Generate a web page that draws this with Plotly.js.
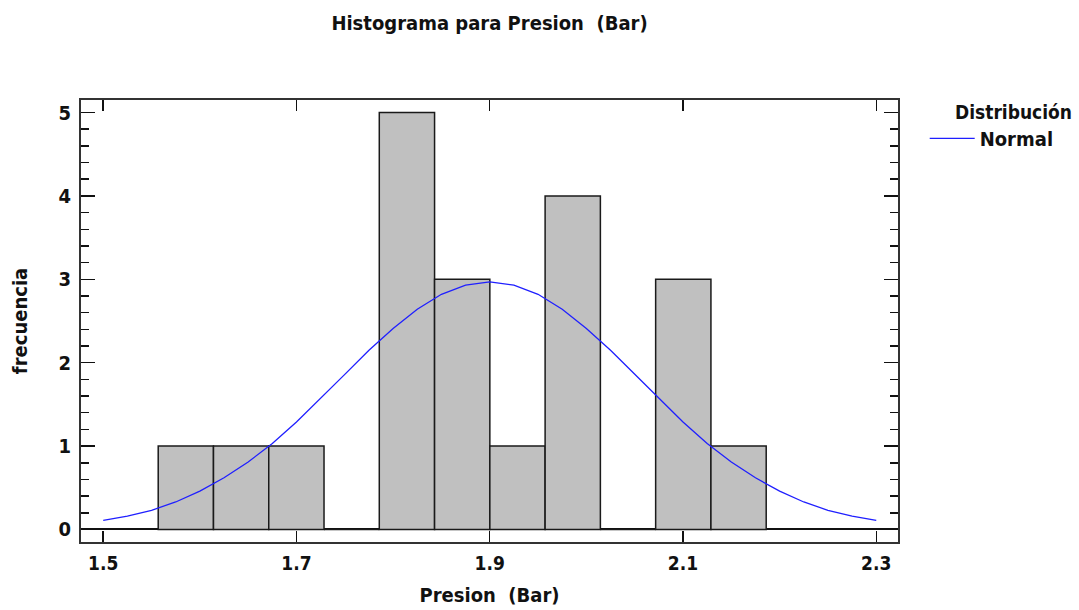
<!DOCTYPE html>
<html>
<head>
<meta charset="utf-8">
<script src="https://cdn.plot.ly/plotly-3.0.1.min.js"></script>
<style>html,body{margin:0;padding:0;background:#fff;}#chart{width:1079px;height:610px;}</style>
</head>
<body>
<div id="chart"></div>
<script>
// Histogram bins (centres, in Bar) and counts
const binCenters = [1.5855, 1.6427, 1.6999, 1.7571, 1.8143, 1.8715, 1.9287, 1.9859, 2.0431, 2.1003, 2.1575];
const binWidth = 0.0572;
const counts = [1, 1, 1, 0, 5, 3, 1, 4, 0, 3, 1];

// Fitted normal curve
const curveX = [1.500, 1.525, 1.550, 1.575, 1.600, 1.625, 1.650, 1.675, 1.700, 1.725, 1.750, 1.775, 1.800, 1.825, 1.850, 1.875, 1.900,
                1.925, 1.950, 1.975, 2.000, 2.025, 2.050, 2.075, 2.100, 2.125, 2.150, 2.175, 2.200, 2.225, 2.250, 2.275, 2.300];
const curveY = [0.11, 0.16, 0.23, 0.33, 0.46, 0.62, 0.81, 1.03, 1.29, 1.57, 1.86, 2.15, 2.41, 2.64, 2.82, 2.93, 2.97,
                2.93, 2.82, 2.64, 2.41, 2.15, 1.86, 1.57, 1.29, 1.03, 0.81, 0.62, 0.46, 0.33, 0.23, 0.16, 0.11];

const xTicks = [1.5, 1.7, 1.9, 2.1, 2.3];
const yTicks = [0, 1, 2, 3, 4, 5];

const FONT = '"DejaVu Sans Condensed", "Liberation Sans Narrow", sans-serif';

const traces = [
  {
    type: 'bar',
    x: binCenters,
    y: counts,
    width: counts.map(() => binWidth),
    marker: {color: '#c0c0c0', line: {color: '#1a1a1a', width: 1.5}},
    showlegend: false,
    hoverinfo: 'x+y'
  },
  {
    type: 'scatter',
    mode: 'lines',
    name: '<b>Normal</b>',
    x: curveX,
    y: curveY,
    line: {color: '#1f1fff', width: 1.3}
  }
];

const layout = {
  width: 1079,
  height: 610,
  paper_bgcolor: '#ffffff',
  plot_bgcolor: '#ffffff',
  margin: {l: 81, r: 181, t: 100, b: 68, pad: 0},
  font: {family: FONT, color: '#111', size: 20},
  title: {
    text: '<b>Histograma para Presion  (Bar)</b>',
    font: {family: FONT, size: 20, color: '#111'},
    x: 0.5, xref: 'paper', xanchor: 'center',
    y: 0.962, yref: 'container', yanchor: 'middle'
  },
  bargap: 0,
  xaxis: {
    range: [1.477, 2.3225],
    tickvals: xTicks,
    ticktext: xTicks.map(v => '<b>' + v.toFixed(1) + '</b>'),
    ticks: 'inside',
    ticklen: 11,
    tickwidth: 1.5,
    tickcolor: '#111',
    showline: true,
    linecolor: '#333',
    linewidth: 2,
    mirror: 'ticks',
    showgrid: false,
    zeroline: false,
    ticklabelstandoff: 3,
    tickfont: {family: FONT, size: 19, color: '#111'},
    title: {text: '<b>Presion  (Bar)</b>', font: {family: FONT, size: 20, color: '#111'}, standoff: 15}
  },
  yaxis: {
    range: [-0.15, 5.15],
    tickvals: yTicks,
    ticktext: yTicks.map(v => '<b>' + v + '</b>'),
    ticks: 'inside',
    ticklen: 14,
    tickwidth: 1.5,
    tickcolor: '#111',
    minor: {dtick: 0.2, ticks: 'inside', ticklen: 8, tickwidth: 1.5, tickcolor: '#111', showgrid: false},
    showline: true,
    linecolor: '#333',
    linewidth: 2,
    mirror: 'ticks',
    showgrid: false,
    zeroline: true,
    zerolinecolor: '#111',
    zerolinewidth: 2,
    ticklabelstandoff: 4,
    tickfont: {family: FONT, size: 20, color: '#111'},
    title: {text: '<b>frecuencia</b>', font: {family: FONT, size: 20, color: '#111'}, standoff: 25}
  },
  showlegend: true,
  legend: {
    xref: 'container', yref: 'container',
    x: 0.857, xanchor: 'left',
    y: 0.805, yanchor: 'top',
    font: {family: FONT, size: 20, color: '#111'},
    bgcolor: 'rgba(0,0,0,0)',
    itemwidth: 45
  },
  annotations: [
    {
      text: '<b>Distribución</b>',
      xref: 'paper', yref: 'paper',
      x: 1.2154, y: 0.973, xanchor: 'right', yanchor: 'middle',
      showarrow: false,
      font: {family: FONT, size: 19, color: '#111'}
    }
  ]
};

Plotly.newPlot('chart', traces, layout, {displayModeBar: false, staticPlot: true});
</script>
</body>
</html>
